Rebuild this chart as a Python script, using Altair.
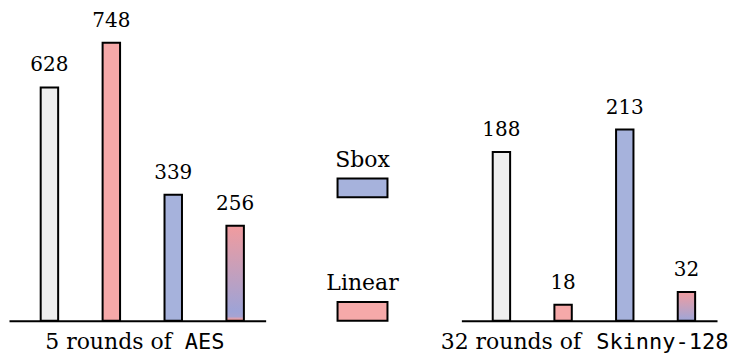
import altair as alt
import pandas as pd

# ---- data ----
categories = ["Baseline", "Linear", "Sbox", "Sbox+Linear"]
aes_values = [628, 748, 339, 256]
skinny_values = [188, 18, 213, 32]
aes_title = ["5 rounds of", "AES"]
skinny_title = ["32 rounds of", "Skinny-128"]
legend_names = ["Sbox", "Linear"]

# ---- style ----
GREY = "#eeeeee"
PINK = "#f6a9a9"
BLUE = "#a6b2dc"
SERIF = "DejaVu Serif"
MONO = "DejaVu Sans Mono"
H = 311


def panel(values, title, ymax, width, align, stops, tx):
    df = pd.DataFrame({"cat": categories, "val": values,
                       "label": [str(v) for v in values]})
    x = alt.X("cat:N", sort=categories,
              scale=alt.Scale(domain=categories, paddingInner=0.718,
                              paddingOuter=0.4316, align=align),
              axis=alt.Axis(title=None, labels=False, ticks=False, grid=False,
                            domain=True, domainColor="black", domainWidth=2))
    y = alt.Y("val:Q", scale=alt.Scale(domain=[0, ymax], nice=False, zero=True),
              axis=None)
    base = alt.Chart(df).encode(x=x, y=y)
    solid = base.transform_filter(alt.datum.cat != categories[3]).mark_bar(
        stroke="black", strokeWidth=2
    ).encode(fill=alt.Fill("cat:N",
                           scale=alt.Scale(domain=categories[:3],
                                           range=[GREY, PINK, BLUE]),
                           legend=None))
    grad = base.transform_filter(alt.datum.cat == categories[3]).mark_bar(
        stroke="black", strokeWidth=2,
        fill=alt.Gradient(gradient="linear",
                          stops=[alt.GradientStop(offset=o, color=c) for o, c in stops],
                          x1=0, x2=0, y1=0, y2=1))
    labels = base.mark_text(font=SERIF, fontSize=20, baseline="alphabetic",
                            dy=-16, color="black").encode(text="label:N")
    tdf = pd.DataFrame({"a": [title[0]], "b": [title[1]]})
    t1 = alt.Chart(tdf).mark_text(font=SERIF, fontSize=22, align="right",
                                  baseline="alphabetic", color="black").encode(
        text="a:N", x=alt.value(tx[0]), y=alt.value(H + 28))
    t2 = alt.Chart(tdf).mark_text(font=MONO, fontSize=22, align="left",
                                  baseline="alphabetic", color="black").encode(
        text="b:N", x=alt.value(tx[1]), y=alt.value(H + 28))
    return alt.layer(solid, grad, labels, t1, t2).properties(width=width, height=H)


left = panel(aes_values, aes_title, 835.6, 257, 0.593,
             [(0, "#f19b9e"), (0.9, "#9ea3d6"), (0.955, "#a6a3d2"), (0.985, "#f0a0a3"), (1, "#f0a0a3")],
             (163, 176))
right = panel(skinny_values, skinny_title, 345.8, 256, 0.589,
              [(0, "#f09ca0"), (1, "#9ea6d8")],
              (120, 135))

leg_df = pd.DataFrame({"name": legend_names, "color": [BLUE, PINK]})
ly = alt.Y("name:N", sort=legend_names,
           scale=alt.Scale(domain=legend_names, paddingInner=0.8474,
                           paddingOuter=0.681, align=1),
           axis=None)
swatch = alt.Chart(leg_df).mark_rect(stroke="black", strokeWidth=2).encode(
    y=ly, x=alt.value(72), x2=alt.value(122),
    fill=alt.Fill("color:N", scale=None))
ltext = alt.Chart(leg_df).mark_text(font=SERIF, fontSize=22, baseline="alphabetic",
                                    dy=-21, color="black").encode(
    y=ly, x=alt.value(97), text="name:N")
middle = alt.layer(swatch, ltext).properties(width=196, height=H)

chart = alt.hconcat(left, middle, right, spacing=0, bounds="flush").configure_view(
    stroke=None
).properties(padding={"left": 1, "top": 2, "right": 0, "bottom": 0},
             background="white")

chart.save("out.html", embed_options={"renderer": "svg", "actions": False})
